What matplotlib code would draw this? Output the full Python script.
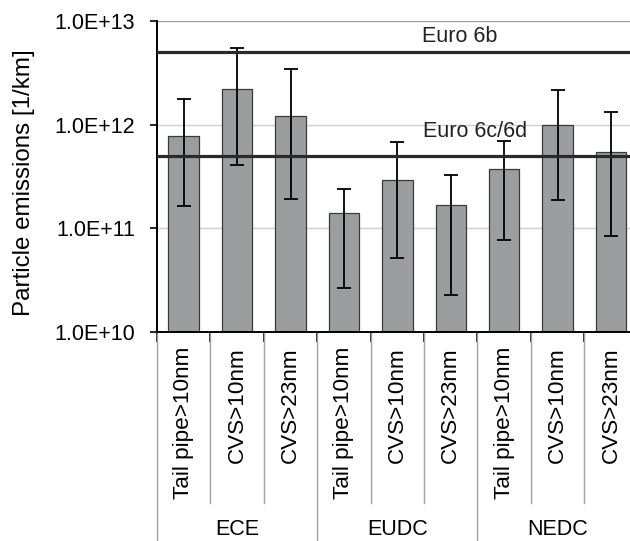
import matplotlib.pyplot as plt
import numpy as np

plt.rcParams['font.family'] = ['Liberation Sans', 'DejaVu Sans']

cycles = ['ECE', 'EUDC', 'NEDC']
samplers = ['Tail pipe>10nm', 'CVS>10nm', 'CVS>23nm']

# mean particle number per km and the min/max range for each sampler
pn_mean = [7.7e11, 2.19e12, 1.21e12, 1.39e11, 2.91e11, 1.69e11, 3.72e11, 9.8e11, 5.46e11]
pn_high = [1.76e12, 5.48e12, 3.41e12, 2.41e11, 6.78e11, 3.25e11, 6.93e11, 2.14e12, 1.32e12]
pn_low = [1.63e11, 4.06e11, 1.89e11, 2.63e10, 5.17e10, 2.24e10, 7.66e10, 1.87e11, 8.4e10]

limits = [5e12, 5e11]
limit_names = ['Euro 6b', 'Euro 6c/6d']
limit_text_x = [5.17, 5.45]
limit_text_y = [7.05e12, 8.5e11]

fs = 15.5
fig = plt.figure(figsize=(6.3, 5.41), dpi=100)
ax = fig.add_axes([0.2492, 0.3869, 0.763, 0.5743])

n = len(pn_mean)
x = np.arange(n)
mean = np.array(pn_mean)
yerr = [mean - np.array(pn_low), np.array(pn_high) - mean]

ax.set_yscale('log')
ax.set_ylim(1e10, 1e13)
ax.set_xlim(-0.5, n - 0.5)

for yv in [1e11, 1e12]:
    ax.axhline(yv, color='#d0d0d0', lw=1.0, zorder=0)
ax.axhline(1e13, color='#999999', lw=1.6, zorder=1)

ax.bar(x, mean, width=0.57, color='#9a9e9e', edgecolor='#3a3a3a', lw=0.9, zorder=2)
ax.errorbar(x, mean, yerr=yerr, fmt='none', ecolor='black', elinewidth=1.3,
            capsize=5, capthick=1.3, zorder=3)

for lim, name, tx, ty in zip(limits, limit_names, limit_text_x, limit_text_y):
    ax.axhline(lim, color='#2a2a2a', lw=2.3, zorder=4)
    ax.text(tx, ty, name, ha='center', va='center', fontsize=fs, color='#222222')

for side in ['top', 'right']:
    ax.spines[side].set_visible(False)
ax.spines['left'].set_linewidth(1.4)
ax.spines['bottom'].set_linewidth(1.4)

ax.set_yticks([1e10, 1e11, 1e12, 1e13])
ax.set_yticklabels(['1.0E+10', '1.0E+11', '1.0E+12', '1.0E+13'], fontsize=fs)
ax.yaxis.set_minor_locator(plt.NullLocator())
ax.tick_params(axis='y', length=5, width=1.2, pad=11)
ax.set_xticks(np.arange(n + 1) - 0.5)
ax.set_xticklabels([])
ax.tick_params(axis='x', length=7, width=1.2)
ax.set_ylabel('Particle emissions [1/km]', fontsize=17.4)
ax.yaxis.set_label_coords(-0.254, 0.48)

# category table under the axis
trans = ax.get_xaxis_transform()
for i in range(n + 1):
    bottom = -0.7 if i % 3 == 0 else -0.551
    ax.plot([i - 0.5, i - 0.5], [0, bottom], color='#a0a0a0', lw=1.0,
            transform=trans, clip_on=False)
for i in range(n):
    ax.text(i, -0.049, samplers[i % 3], rotation=90, ha='center', va='top',
            fontsize=16.2, transform=trans)
for g, name in enumerate(cycles):
    ax.text(3 * g + 1, -0.638, name, ha='center', va='center', fontsize=fs,
            transform=trans)

fig.savefig('out.png', dpi=100)
